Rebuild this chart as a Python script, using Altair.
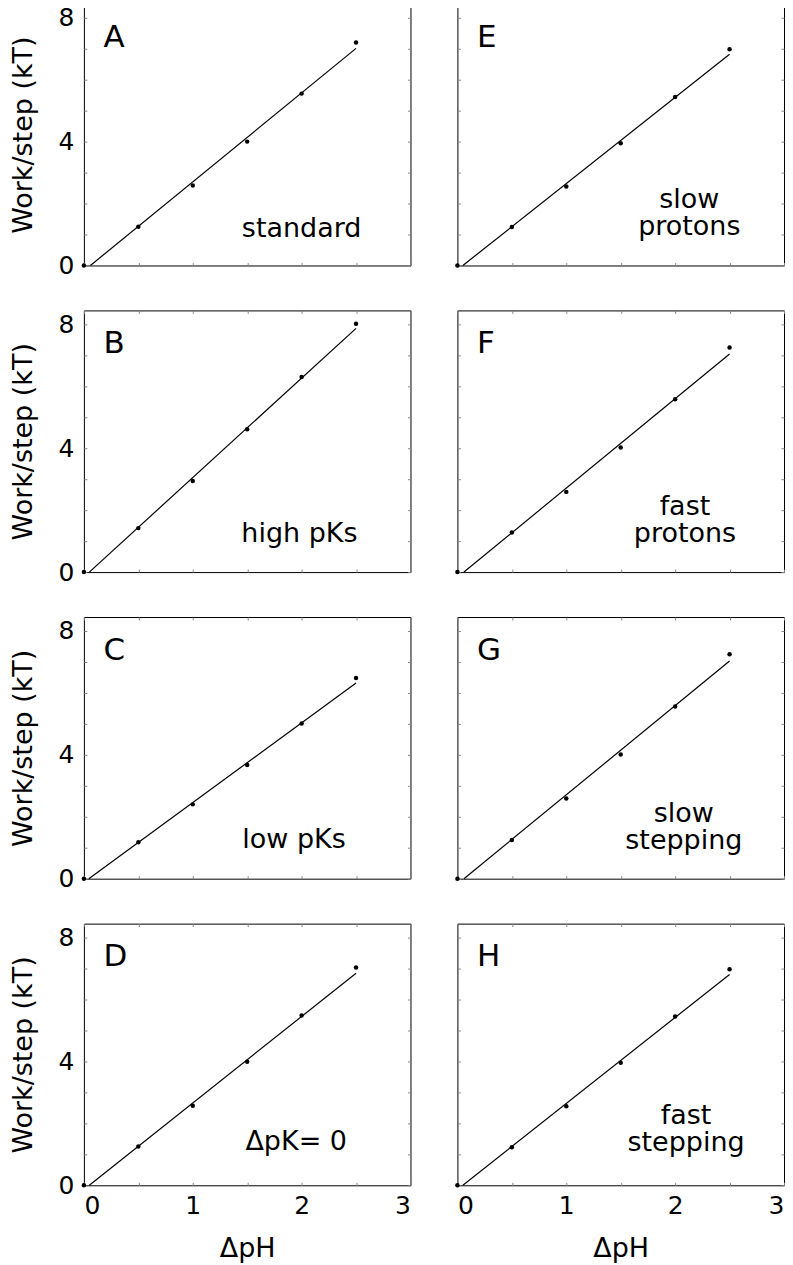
import altair as alt
import pandas as pd

# ---- data ----
panel_ids = ["A", "B", "C", "D", "E", "F", "G", "H"]
dph = [0.0, 0.5, 1.0, 1.5, 2.0, 2.5]

work_A = [0.0, 1.25, 2.58, 4.00, 5.55, 7.20]
work_B = [0.0, 1.42, 2.94, 4.61, 6.30, 8.02]
work_C = [0.0, 1.18, 2.40, 3.67, 5.01, 6.48]
work_D = [0.0, 1.25, 2.57, 3.99, 5.48, 7.03]
work_E = [0.0, 1.24, 2.55, 3.95, 5.44, 6.98]
work_F = [0.0, 1.28, 2.59, 4.02, 5.58, 7.25]
work_G = [0.0, 1.25, 2.59, 4.01, 5.56, 7.25]
work_H = [0.0, 1.23, 2.55, 3.96, 5.45, 6.98]

# fitted line: zero crossing on the x axis, value at dpH = 2.5
fit_x0 = [0.06, 0.05, 0.045, 0.05, 0.05, 0.06, 0.06, 0.05]
fit_x1 = [2.5, 2.5, 2.5, 2.5, 2.5, 2.5, 2.5, 2.5]
fit_y1 = [7.01, 7.87, 6.32, 6.85, 6.82, 7.04, 7.03, 6.81]

panel_text = [
    ["standard"],
    ["high pKs"],
    ["low pKs"],
    ["ΔpK= 0"],
    ["slow", "protons"],
    ["fast", "protons"],
    ["slow", "stepping"],
    ["fast", "stepping"],
]

x_ticks = [0, 0.5, 1, 1.5, 2, 2.5, 3]
y_ticks = [0, 1, 2, 3, 4, 5, 6, 7, 8]

# annotation placement (data units)
text_x = [2.0, 1.98, 1.93, 1.95, 2.13, 2.09, 2.08, 2.1]
text_y = [[0.93], [0.97], [0.98], [1.15], [1.84, 0.97], [1.84, 0.98], [1.83, 0.97], [1.99, 1.12]]
letter_x = 0.18
letter_y = 7.07

works = [work_A, work_B, work_C, work_D, work_E, work_F, work_G, work_H]

FONT = "DejaVu Sans"
XS = alt.Scale(domain=[0, 3], nice=False, zero=False)
YS = alt.Scale(domain=[0, 8.45], nice=False, zero=False)
TICK = {"expr": "-3"}


def panel(i, left_col, bottom_row):
    pts = pd.DataFrame({"x": dph, "y": works[i]})
    fit = pd.DataFrame({"x": [fit_x0[i], fit_x1[i]], "y": [0.0, fit_y1[i]]})
    ann = pd.DataFrame({"x": [text_x[i]] * len(panel_text[i]),
                        "y": text_y[i], "t": panel_text[i]})
    let = pd.DataFrame({"x": [letter_x], "y": [letter_y], "t": [panel_ids[i]]})

    xb = dict(orient="bottom", values=x_ticks, tickSize=TICK, domain=False, grid=False,
              labels=bottom_row, title=None)
    if bottom_row:
        xb.update(title="ΔpH",
                  labelExpr="datum.value % 1 == 0 ? format(datum.value, 'd') : ''",
                  labelPadding=11, titlePadding=17)
    yl = dict(orient="left", values=y_ticks, tickSize=TICK, domain=False, grid=False,
              labels=left_col, title=None)
    if left_col:
        yl.update(title="Work/step (kT)",
                  labelExpr="datum.value % 4 == 0 ? format(datum.value, 'd') : ''",
                  labelPadding=13, titlePadding=21)

    line = alt.Chart(fit).mark_line(color="black", strokeWidth=1.2).encode(
        x=alt.X("x:Q", scale=XS, axis=alt.Axis(**xb)),
        y=alt.Y("y:Q", scale=YS, axis=alt.Axis(**yl)),
    )
    dots = alt.Chart(pts).mark_circle(color="black", size=20, opacity=1, clip=False).encode(
        x=alt.X("x:Q", scale=XS, axis=alt.Axis(orient="top", values=x_ticks, tickSize=TICK,
                                                 labels=False, domain=False, grid=False,
                                                 title=None)),
        y=alt.Y("y:Q", scale=YS, axis=alt.Axis(orient="right", values=y_ticks, tickSize=TICK,
                                                 labels=False, domain=False, grid=False,
                                                 title=None)),
    )
    letters = alt.Chart(let).mark_text(align="left", baseline="alphabetic", fontSize=31,
                                        font=FONT, color="black").encode(
        x=alt.X("x:Q", scale=XS, axis=None),
        y=alt.Y("y:Q", scale=YS, axis=None),
        text="t:N",
    )
    labels = alt.Chart(ann).mark_text(align="center", baseline="alphabetic", fontSize=27,
                                       font=FONT, color="black").encode(
        x=alt.X("x:Q", scale=XS, axis=None),
        y=alt.Y("y:Q", scale=YS, axis=None),
        text="t:N",
    )
    return alt.layer(line, dots, letters, labels).resolve_axis(
        x="independent", y="independent").properties(width=327, height=262)


rows = []
for r in range(4):
    rows.append(alt.hconcat(panel(r, True, r == 3), panel(r + 4, False, r == 3), spacing=43))

chart = alt.vconcat(*rows, spacing=30).properties(
    padding={"top": -6, "left": 0, "right": 0, "bottom": 0}
).configure_view(stroke="black", strokeWidth=1).configure_axis(
    labelFont=FONT, titleFont=FONT, labelFontSize=25, titleFontSize=27,
    labelColor="black", titleColor="black", tickColor="#888888", tickWidth=1,
    titleFontWeight="normal",
)

chart.save("out.html", embed_options={"renderer": "svg", "actions": False})
